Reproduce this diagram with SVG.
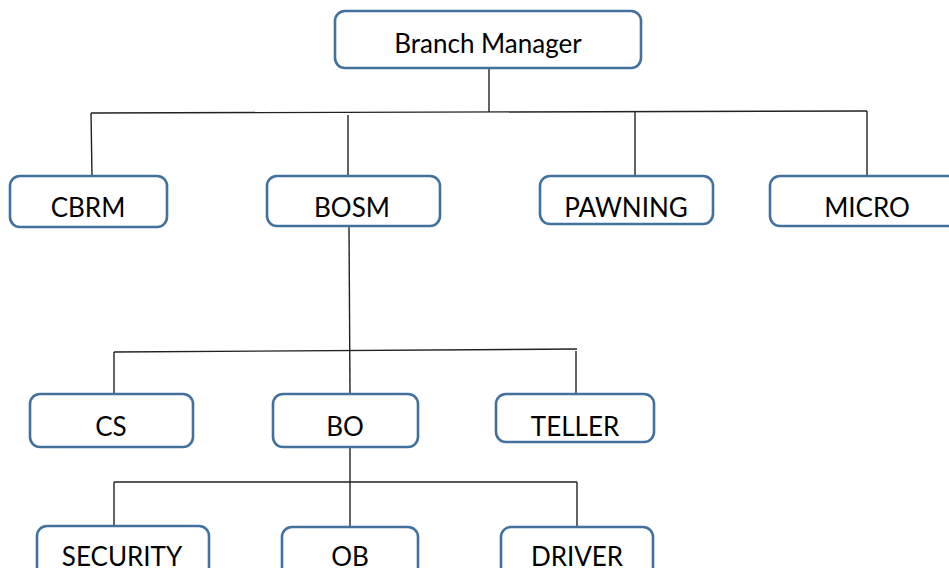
<svg xmlns="http://www.w3.org/2000/svg" width="949" height="568" viewBox="0 0 949 568">
<style>
.box{fill:#ffffff;stroke:#41719c;stroke-width:2.6}
.lbl{font-family:Lato,"Open Sans","Liberation Sans",sans-serif;font-size:26px;fill:#000;text-anchor:middle}
.ln{stroke:#222;stroke-width:1.4;fill:none}
</style>
<rect width="949" height="568" fill="#ffffff"/>
<g id="connectors">
<line class="ln" x1="489" y1="68" x2="489" y2="112"/>
<line class="ln" x1="91" y1="113" x2="867" y2="111"/>
<line class="ln" x1="91" y1="113" x2="92" y2="176"/>
<line class="ln" x1="348" y1="115" x2="348" y2="176"/>
<line class="ln" x1="635" y1="112" x2="635" y2="176"/>
<line class="ln" x1="867" y1="111" x2="867" y2="176"/>
<line class="ln" x1="349" y1="226" x2="350" y2="394"/>
<line class="ln" x1="114" y1="352" x2="577" y2="349"/>
<line class="ln" x1="114" y1="352" x2="114" y2="394"/>
<line class="ln" x1="576" y1="351" x2="576" y2="394"/>
<line class="ln" x1="350" y1="447" x2="350" y2="527"/>
<line class="ln" x1="114" y1="482" x2="577" y2="482"/>
<line class="ln" x1="114" y1="482" x2="114" y2="526"/>
<line class="ln" x1="577" y1="482" x2="577" y2="527"/>
</g>
<g id="branch-manager"><rect class="box" x="335" y="11" width="306" height="57" rx="10"/><text class="lbl" x="488" y="53">Branch Manager</text></g>
<g id="cbrm"><rect class="box" x="10" y="176" width="157" height="51" rx="10"/><text class="lbl" x="88" y="217">CBRM</text></g>
<g id="bosm"><rect class="box" x="267" y="176" width="173" height="50" rx="10"/><text class="lbl" x="352" y="217">BOSM</text></g>
<g id="pawning"><rect class="box" x="540" y="176" width="173" height="48" rx="10"/><text class="lbl" x="626" y="217">PAWNING</text></g>
<g id="micro"><rect class="box" x="770" y="176" width="195" height="50" rx="10"/><text class="lbl" x="867" y="217">MICRO</text></g>
<g id="cs"><rect class="box" x="30" y="394" width="163" height="53" rx="10"/><text class="lbl" x="111" y="436">CS</text></g>
<g id="bo"><rect class="box" x="273" y="394" width="145" height="53" rx="10"/><text class="lbl" x="345" y="436">BO</text></g>
<g id="teller"><rect class="box" x="496" y="394" width="158" height="48" rx="10"/><text class="lbl" x="575" y="436">TELLER</text></g>
<g id="security"><rect class="box" x="37" y="526" width="172" height="60" rx="10"/><text class="lbl" x="122" y="566">SECURITY</text></g>
<g id="ob"><rect class="box" x="282" y="527" width="136" height="60" rx="10"/><text class="lbl" x="350" y="566">OB</text></g>
<g id="driver"><rect class="box" x="501" y="527" width="152" height="60" rx="10"/><text class="lbl" x="577" y="566">DRIVER</text></g>
</svg>
